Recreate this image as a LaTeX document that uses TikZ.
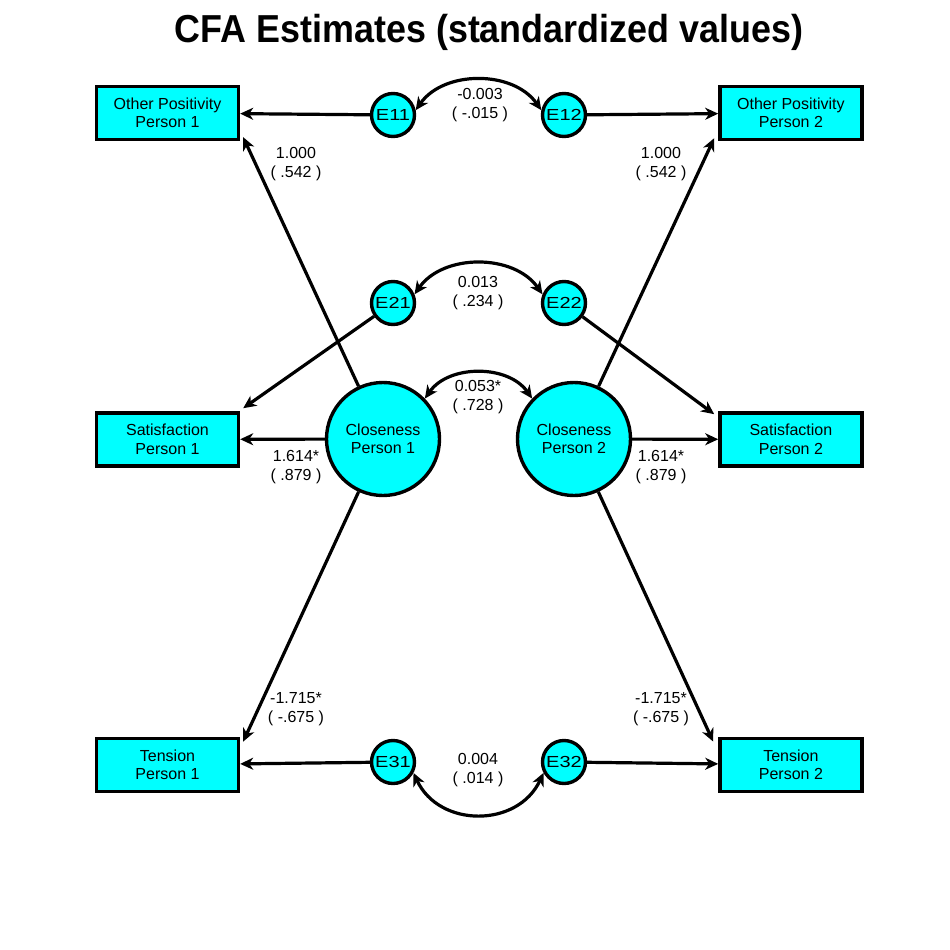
\documentclass[tikz,border=0pt]{standalone}
\usepackage{fontspec}
\setmainfont{Liberation Sans}
\usetikzlibrary{positioning,arrows.meta}
\definecolor{cNode}{HTML}{00FFFF}
\tikzset{
  obs/.style={rectangle,draw,fill=cNode,line width=3.4pt,minimum width=142pt,minimum height=53pt,align=center,inner sep=0pt,font=\fontsize{16}{18.5}\selectfont},
  lat/.style={circle,draw,fill=cNode,line width=3.4pt,minimum size=113pt,inner sep=0pt,align=center,font=\fontsize{16}{17.5}\selectfont},
  err/.style={circle,draw,fill=cNode,line width=3.4pt,minimum size=43pt,inner sep=0pt,font=\fontsize{16}{18}\selectfont},
  load/.style={-{Stealth[length=13pt,width=12pt,inset=4pt]},line width=3.2pt},
  cov/.style={{Stealth[length=13pt,width=12pt,inset=4pt]}-{Stealth[length=13pt,width=12pt,inset=4pt]},line width=3.2pt},
  elbl/.style={font=\fontsize{16}{19.5}\selectfont,align=center,inner sep=0pt},
}
\newcommand{\elab}[1]{\scalebox{1.25}[1]{#1}}

\begin{document}
\begin{tikzpicture}[x=1pt,y=-1pt]
  \useasboundingbox (0,0) rectangle (950,950);
  \node[font=\bfseries\fontsize{39}{44}\selectfont] (title) at (489,32) {\scalebox{0.92}[1]{CFA Estimates (standardized values)}};
  % latent factors
  \node[lat] (cl1) at (383,439) {Closeness\\Person 1};
  \node[lat] (cl2) at (574,439) {Closeness\\Person 2};
  % indicators
  \node[obs] (op1) at (167.5,113) {Other Positivity\\Person 1};
  \node[obs,below=270pt of op1] (sp1) {Satisfaction\\Person 1};
  \node[obs,below=269pt of sp1] (tp1) {Tension\\Person 1};
  \node[obs,right=478pt of op1] (op2) {Other Positivity\\Person 2};
  \node[obs,right=478pt of sp1] (sp2) {Satisfaction\\Person 2};
  \node[obs,right=478pt of tp1] (tp2) {Tension\\Person 2};
  % residuals
  \node[err] (e11) at (393,115) {\elab{E11}};
  \node[err] (e12) at (564,115) {\elab{E12}};
  \node[err] (e21) at (393,303) {\elab{E21}};
  \node[err] (e22) at (564,303) {\elab{E22}};
  \node[err] (e31) at (393,762) {\elab{E31}};
  \node[err] (e32) at (564,762) {\elab{E32}};
  % loadings
  \draw[load] (cl1) -- ([xshift=3pt,yshift=4pt]op1.south east);
  \draw[load] (cl1) -- (sp1);
  \draw[load] (cl1) -- ([xshift=3pt,yshift=-5pt]tp1.north east);
  \draw[load] (cl2) -- ([xshift=-4pt,yshift=3pt]op2.south west);
  \draw[load] (cl2) -- (sp2);
  \draw[load] (cl2) -- ([xshift=-5pt,yshift=-5pt]tp2.north west);
  \draw[load] (e11) -- (op1);
  \draw[load] (e12) -- (op2);
  \draw[load] (e21) -- ([xshift=3pt,yshift=3pt]sp1.north east);
  \draw[load] (e22) -- ([xshift=-4pt,yshift=-3pt]sp2.north west);
  \draw[load] (e31) -- (tp1);
  \draw[load] (e32) -- (tp2);
  % covariances
  \draw[cov] (e11.12) to[bend left=55] (e12.168);
  \draw[cov] (e21.22) to[bend left=55] (e22.158);
  \draw[cov] (cl1.44) to[bend left=55] (cl2.136);
  \draw[cov] (e31.-28) to[bend right=65,looseness=1.2] (e32.-152);
  % estimates
  \node[elbl] (w11) at (296,164) {1.000\\( .542 )};
  \node[elbl] (w12) at (661,164) {1.000\\( .542 )};
  \node[elbl] (w21) at (296,467) {1.614*\\( .879 )};
  \node[elbl] (w22) at (661,467) {1.614*\\( .879 )};
  \node[elbl] (w31) at (296,709) {-1.715*\\( -.675 )};
  \node[elbl] (w32) at (661,709) {-1.715*\\( -.675 )};
  \node[elbl] (c1) at (480,105) {-0.003\\( -.015 )};
  \node[elbl] (c2) at (478,293) {0.013\\( .234 )};
  \node[elbl] (c0) at (478,397) {0.053*\\( .728 )};
  \node[elbl] (c3) at (478,770) {0.004\\( .014 )};
\end{tikzpicture}
\end{document}
